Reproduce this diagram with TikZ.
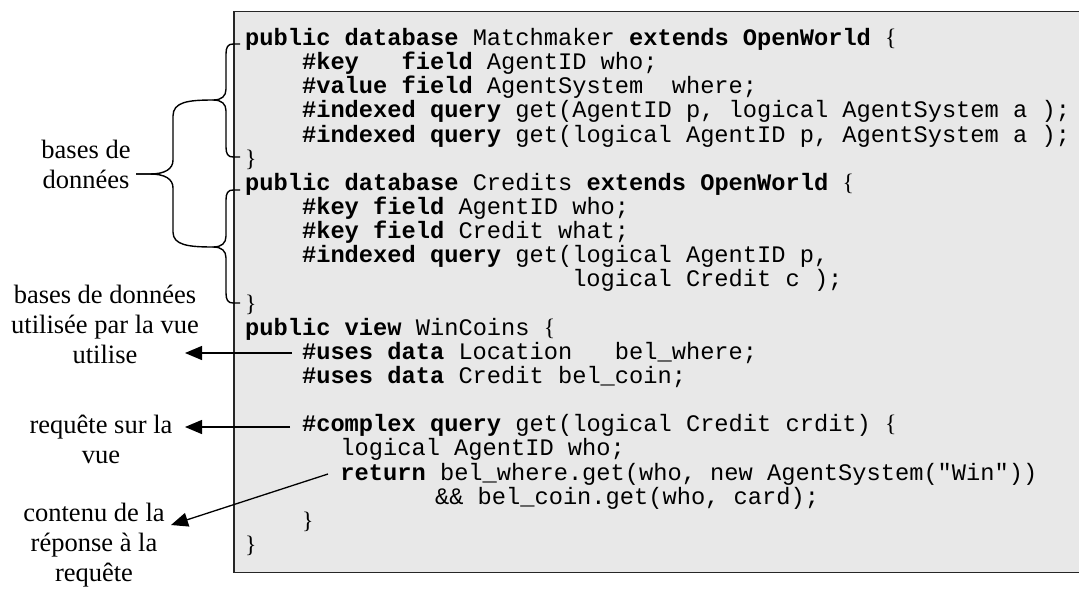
\documentclass[tikz,border=0pt]{standalone}
\usepackage{fontspec}
\setmainfont{Liberation Serif}
\setmonofont{Liberation Mono}
\usetikzlibrary{arrows.meta}
% keywords in bold, braces set in the serif face
\newcommand\kw[1]{\textbf{#1}}
\newcommand\ob{{\rmfamily\{}}
\newcommand\cb{{\rmfamily\}}}
% column / line grid of the listing
\newcommand\cx[1]{245+14.22*#1}
\newcommand\ly[1]{45.5+24.14*(#1-1)}
\definecolor{codebg}{HTML}{E8E8E8}
\tikzset{
  code/.style={anchor=base west, inner sep=0pt, font=\fontsize{23.7}{24}\selectfont\ttfamily},
  % multi-line labels: the base anchor sits on the last line
  lab/.style={anchor=base, inner sep=0pt, align=center, font=\fontsize{26.5}{30}\selectfont},
  brace/.style={line width=1.4pt, line join=round},
  arr/.style={line width=1.3pt, -{Triangle[length=17pt,width=14pt]}},
}
\begin{document}
\begin{tikzpicture}[x=1pt,y=-1pt]
\useasboundingbox (0,0) rectangle (1079,590);
% listing panel
\draw[fill=codebg, draw=black!85, line width=1.6pt] (234,11.5) rectangle (1090,572.5);

% listing
\node[code] (c1)  at ({\cx{0}},{\ly{1}})  {\kw{public database} Matchmaker \kw{extends OpenWorld} \ob};
\node[code] (c2)  at ({\cx{4}},{\ly{2}})  {\kw{\#key~~~field} AgentID who;};
\node[code] (c3)  at ({\cx{4}},{\ly{3}})  {\kw{\#value field} AgentSystem~~where;};
\node[code] (c4)  at ({\cx{4}},{\ly{4}})  {\kw{\#indexed query} get(AgentID p, logical AgentSystem a );};
\node[code] (c5)  at ({\cx{4}},{\ly{5}})  {\kw{\#indexed query} get(logical AgentID p, AgentSystem a );};
\node[code] (c6)  at ({\cx{0}},{\ly{6}})  {\cb};
\node[code] (c7)  at ({\cx{0}},{\ly{7}})  {\kw{public database} Credits \kw{extends OpenWorld} \ob};
\node[code] (c8)  at ({\cx{4}},{\ly{8}})  {\kw{\#key field} AgentID who;};
\node[code] (c9)  at ({\cx{4}},{\ly{9}})  {\kw{\#key field} Credit what;};
\node[code] (c10) at ({\cx{4}},{\ly{10}}) {\kw{\#indexed query} get(logical AgentID p,};
\node[code] (c11) at ({\cx{23}},{\ly{11}}) {logical Credit c );};
\node[code] (c12) at ({\cx{0}},{\ly{12}}) {\cb};
\node[code] (c13) at ({\cx{0}},{\ly{13}}) {\kw{public view} WinCoins \ob};
\node[code] (c14) at ({\cx{4}},{\ly{14}}) {\kw{\#uses data} Location~~~bel\_where;};
\node[code] (c15) at ({\cx{4}},{\ly{15}}) {\kw{\#uses data} Credit bel\_coin;};
\node[code] (c17) at ({\cx{4}},{\ly{17}}) {\kw{\#complex query} get(logical Credit crdit) \ob};
\node[code] (c18) at ({\cx{6.7}},{\ly{18}}) {logical AgentID who;};
\node[code] (c19) at ({\cx{6.7}},{\ly{19}}) {\kw{return} bel\_where.get(who, new AgentSystem("Win"))};
\node[code] (c20) at ({\cx{13.35}},{\ly{20}}) {\&\& bel\_coin.get(who, card);};
\node[code] (c21) at ({\cx{4}},{\ly{21}}) {\cb};
\node[code] (c22) at ({\cx{0}},{\ly{22}}) {\cb};

% side labels
\node[lab] (db)  at (86,188)  {bases de\\données};
\node[lab] (use) at (105,363) {bases de données\\utilisée par la vue\\utilise};
\node[lab] (req) at (101,463) {requête sur la\\vue};
\node[lab] (rep) at (94,581)  {contenu de la\\réponse à la\\requête};

% braces grouping the two databases
\coordinate (uTop) at (240,44);
\coordinate (uTip) at (213,100);
\coordinate (uBot) at (240,157);
\coordinate (lTop) at (240,190);
\coordinate (lTip) at (213,247);
\coordinate (lBot) at (240,303);
\coordinate (bTip) at (136,174);
\draw[brace] (uTop) -- (233,44) .. controls (228,44) and (226,47) .. (226,54)
  -- (226,89) .. controls (226,96) and (222,100) .. (uTip)
  .. controls (222,100) and (226,104) .. (226,111)
  -- (226,147) .. controls (226,154) and (228,157) .. (233,157) -- (uBot);
\draw[brace] (lTop) -- (233,190) .. controls (228,190) and (226,193) .. (226,200)
  -- (226,236) .. controls (226,243) and (222,247) .. (lTip)
  .. controls (222,247) and (226,251) .. (226,258)
  -- (226,293) .. controls (226,300) and (228,303) .. (233,303) -- (lBot);
\draw[brace] (uTip) .. controls (188,100) and (173,102) .. (173,116)
  -- (173,160) .. controls (173,169) and (165,174) .. (150,174) -- (bTip);
\draw[brace] (bTip) -- (150,174) .. controls (165,174) and (173,179) .. (173,188)
  -- (173,232) .. controls (173,245) and (188,247) .. (lTip);

% pointers from the listing to the labels
\coordinate (s1) at (292,353);
\coordinate (t1) at (185,353);
\coordinate (s2) at (290,427);
\coordinate (t2) at (185,427);
\coordinate (s3) at (328,474);
\coordinate (t3) at (171,525);
\draw[arr] (s1) -- (t1);
\draw[arr] (s2) -- (t2);
\draw[arr] (s3) -- (t3);
\end{tikzpicture}
\end{document}
